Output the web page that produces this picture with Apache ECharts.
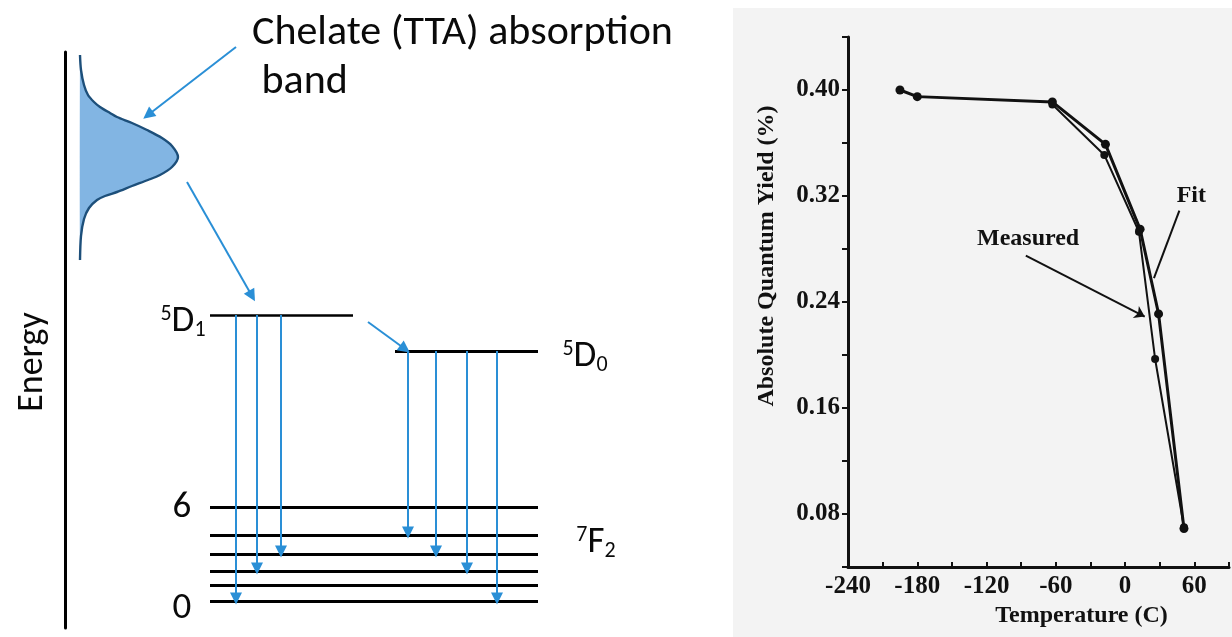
<!DOCTYPE html>
<html>
<head>
<meta charset="utf-8">
<script src="https://cdn.jsdelivr.net/npm/echarts@6/dist/echarts.min.js"></script>
<style>
html,body{margin:0;padding:0;background:#fff;}
#chart{width:1232px;height:637px;}
</style>
</head>
<body>
<div id="chart"></div>
<script>
// ---------- Right panel data: absolute quantum yield vs temperature ----------
const measuredTemp = [-195, -180, -63, -17, 13, 29, 51];
const measuredYield = [0.400, 0.395, 0.391, 0.359, 0.295, 0.231, 0.069];
const fitTemp = [-63, -18, 12, 26, 51];
const fitYield = [0.389, 0.351, 0.293, 0.197, 0.070];
const xTickLabels = [-240, -180, -120, -60, 0, 60];
const yTickLabels = [0.08, 0.16, 0.24, 0.32, 0.40];

// ---------- Left panel data: Eu3+ energy level diagram (arbitrary energy units) ----------
const f7Levels = [0, 1.6, 3.0, 4.7, 6.6, 9.4];      // 7F_J manifold
const d1Level = 28.6;                                // 5D1
const d0Level = 25.0;                                // 5D0
const d1EmissionX = [23.6, 25.7, 28.1];
const d1EmissionTo = [0, 3.0, 4.7];
const d0EmissionX = [40.8, 43.6, 46.7, 49.7];
const d0EmissionTo = [6.6, 4.7, 3.0, 0];
// absorption band profile (width, energy)
const bandWidth = [8.0, 8.1, 8.4, 8.8, 9.4, 10.0, 11.0, 11.7, 13.2, 14.7, 16.2, 17.2, 17.8, 17.2, 16.0, 14.8, 13.2, 11.7, 10.5, 9.7, 8.9, 8.4, 8.1, 8.0];
const bandEnergy = [54.6, 53.1, 51.6, 50.6, 49.9, 49.4, 48.8, 48.4, 47.8, 47.1, 46.3, 45.5, 44.4, 43.4, 42.6, 42.1, 41.5, 40.9, 40.5, 40.1, 39.3, 38.2, 36.5, 34.1];

const serif = 'Liberation Serif';
const sans = 'Carlito, Lato, sans-serif';
const blue = '#2a8fd6';
const ink = '#0a0a0a';

const chart = echarts.init(document.getElementById('chart'), null, {renderer: 'canvas'});

// level segments
const levelSegs = [];
f7Levels.forEach(e => levelSegs.push({coords: [[21.0, e], [53.8, e]], lineStyle: {width: 3.2}}));
levelSegs.push({coords: [[21.0, d1Level], [35.3, d1Level]], lineStyle: {width: 2.6}});
levelSegs.push({coords: [[39.5, d0Level], [53.8, d0Level]], lineStyle: {width: 3.2}});

// arrows
const arrowSegs = [];
d1EmissionX.forEach((x, i) => arrowSegs.push({coords: [[x, d1Level], [x, d1EmissionTo[i] + 0.25]]}));
d0EmissionX.forEach((x, i) => arrowSegs.push({coords: [[x, d0Level], [x, d0EmissionTo[i] + 0.25]]}));
arrowSegs.push({coords: [[36.8, 27.9], [40.5, 25.2]]});
arrowSegs.push({coords: [[18.7, 41.9], [25.2, 30.5]]});
arrowSegs.push({coords: [[23.6, 55.4], [14.8, 48.6]]});

const levelLabels = [
  {value: [18.3, 27.9], label: '{sup|5}{big|D}{sub|1}'},
  {value: [58.5, 24.4], label: '{sup|5}{big|D}{sub|0}'},
  {value: [59.6, 5.8], label: '{sup|7}{big|F}{sub|2}'},
  {value: [18.2, 9.3], label: '{big|6}'},
  {value: [18.2, -0.8], label: '{big|0}'}
];

const annotationNames = ['Fit', 'Measured'];
const annotationX = [57.4, -84];
const annotationY = [0.320, 0.288];

const option = {
  animation: false,
  backgroundColor: '#ffffff',
  graphic: [
    {type: 'rect', z: -100, shape: {x: 733, y: 8, width: 499, height: 629}, style: {fill: '#f3f3f3'}},
    {type: 'text', left: 252, top: 9, style: {text: 'Chelate (TTA) absorption\n band', font: '42px ' + sans, fill: ink, lineHeight: 49}}
  ],
  grid: [
    {left: 65, top: 52, width: 635, height: 576},
    {left: 848, top: 37, width: 385, height: 530}
  ],
  xAxis: [
    {gridIndex: 0, type: 'value', min: 6.5, max: 70, show: false},
    {
      gridIndex: 1, type: 'value', min: -240, max: 90, interval: 30,
      axisLine: {onZero: false, lineStyle: {color: '#111', width: 3}},
      axisTick: {inside: true, length: 5, lineStyle: {color: '#111', width: 2}},
      axisLabel: {
        margin: 7, color: '#111', fontFamily: serif, fontWeight: 'bold', fontSize: 25,
        formatter: v => (xTickLabels.indexOf(v) >= 0 ? String(v) : '')
      },
      splitLine: {show: false},
      name: 'Temperature (C)', nameLocation: 'middle', nameGap: 35,
      nameTextStyle: {color: '#111', fontFamily: serif, fontWeight: 'bold', fontSize: 24, padding: [0, 0, 0, 86]}
    }
  ],
  yAxis: [
    {
      gridIndex: 0, type: 'value', min: -2.7, max: 54.9,
      axisLine: {show: true, onZero: false, lineStyle: {color: '#000', width: 3}},
      axisTick: {show: false}, axisLabel: {show: false}, splitLine: {show: false},
      name: 'Energy', nameLocation: 'middle', nameGap: 14, nameRotate: 90,
      nameTextStyle: {color: ink, fontFamily: sans, fontSize: 36, padding: [0, 44, 0, 0]}
    },
    {
      gridIndex: 1, type: 'value', min: 0.04, max: 0.44, interval: 0.04,
      axisLine: {show: true, onZero: false, lineStyle: {color: '#111', width: 3}},
      axisTick: {length: 6, lineStyle: {color: '#111', width: 2}},
      axisLabel: {
        margin: 8, color: '#111', fontFamily: serif, fontWeight: 'bold', fontSize: 25,
        formatter: v => {
          const hit = yTickLabels.find(t => Math.abs(t - v) < 1e-6);
          return hit !== undefined ? hit.toFixed(2) : '';
        }
      },
      splitLine: {show: false},
      name: 'Absolute Quantum Yield (%)', nameLocation: 'middle', nameGap: 69, nameRotate: 90,
      nameTextStyle: {color: '#111', fontFamily: serif, fontWeight: 'bold', fontSize: 24, padding: [0, 0, 0, 92]}
    }
  ],
  series: [
    {
      type: 'custom', xAxisIndex: 0, yAxisIndex: 0, silent: true,
      data: bandEnergy.map((e, i) => [bandWidth[i], e]),
      renderItem: (params, api) => {
        if (params.dataIndex !== 0) return null;
        const pts = bandEnergy.map((e, i) => api.coord([bandWidth[i], e]));
        return {
          type: 'group',
          children: [
            {type: 'polygon', shape: {points: pts, smooth: 0.3}, style: {fill: '#82b5e3', stroke: null}},
            {type: 'polyline', shape: {points: pts, smooth: 0.3}, style: {stroke: '#1d4f7a', lineWidth: 2.4, fill: null}}
          ]
        };
      }
    },
    {
      type: 'lines', coordinateSystem: 'cartesian2d', xAxisIndex: 0, yAxisIndex: 0,
      silent: true, clip: false, symbol: ['none', 'none'],
      lineStyle: {color: '#000', width: 3, opacity: 1},
      data: levelSegs
    },
    {
      type: 'lines', coordinateSystem: 'cartesian2d', xAxisIndex: 0, yAxisIndex: 0,
      silent: true, clip: false, symbol: ['none', 'triangle'], symbolSize: 12,
      lineStyle: {color: blue, width: 2, opacity: 1},
      data: arrowSegs
    },
    {
      type: 'scatter', xAxisIndex: 0, yAxisIndex: 0, symbolSize: 0, silent: true, clip: false,
      itemStyle: {opacity: 1},
      data: levelLabels.map(d => ({value: d.value, label: {formatter: d.label}})),
      label: {
        show: true, position: 'inside', color: ink, opacity: 1,
        rich: {
          big: {fontFamily: sans, fontSize: 37, color: ink},
          sup: {fontFamily: sans, fontSize: 22, color: ink, padding: [0, 0, 16, 0]},
          sub: {fontFamily: sans, fontSize: 22, color: ink, padding: [16, 0, 0, 0]}
        }
      }
    },
    {
      name: 'Measured', type: 'line', xAxisIndex: 1, yAxisIndex: 1,
      data: measuredTemp.map((t, i) => [t, measuredYield[i]]),
      symbol: 'circle', symbolSize: 9,
      itemStyle: {color: '#111'}, lineStyle: {color: '#111', width: 3},
      markLine: {
        silent: true, symbol: ['none', 'none'], symbolSize: 10,
        label: {show: false},
        lineStyle: {color: '#111', width: 2, type: 'solid'},
        data: [
          [{coord: [-86, 0.275]}, {coord: [17, 0.229], symbol: 'arrow'}],
          [{coord: [47, 0.309]}, {coord: [25, 0.258]}]
        ]
      }
    },
    {
      name: 'Fit', type: 'line', xAxisIndex: 1, yAxisIndex: 1,
      data: fitTemp.map((t, i) => [t, fitYield[i]]),
      symbol: 'circle', symbolSize: 8,
      itemStyle: {color: '#111'}, lineStyle: {color: '#111', width: 2}
    },
    {
      type: 'scatter', xAxisIndex: 1, yAxisIndex: 1, symbolSize: 0, silent: true,
      itemStyle: {opacity: 1},
      data: annotationNames.map((n, i) => ({value: [annotationX[i], annotationY[i]], name: n})),
      label: {
        show: true, position: 'inside', formatter: p => p.name, opacity: 1,
        color: '#111', fontFamily: serif, fontWeight: 'bold', fontSize: 24
      }
    }
  ]
};
chart.setOption(option);
</script>
</body>
</html>
